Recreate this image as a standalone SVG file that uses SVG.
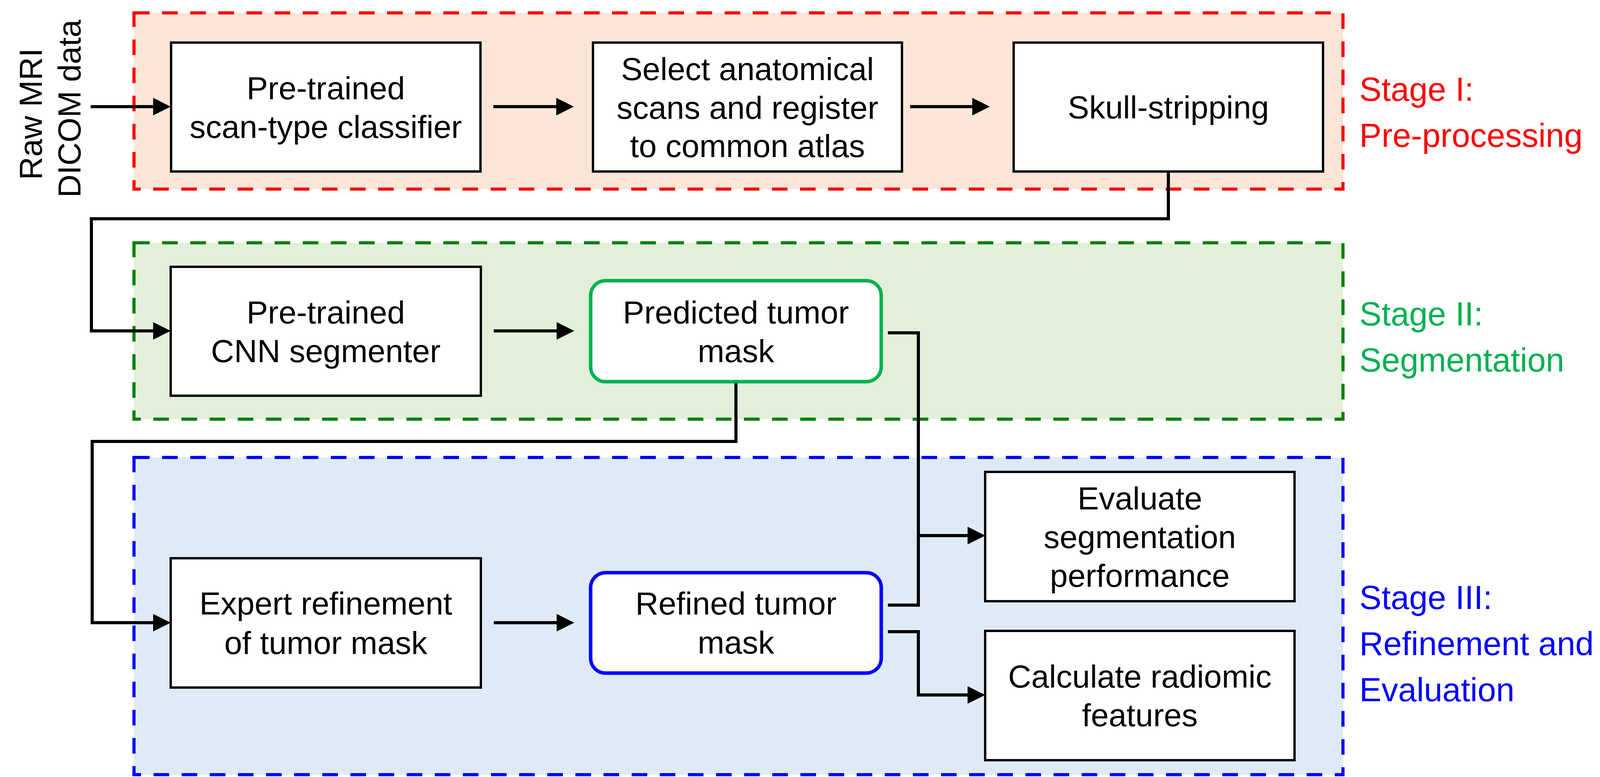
<svg xmlns="http://www.w3.org/2000/svg" width="4402" height="1989" viewBox="0 0 4402 1989">
<style>
  text { font-family: "Liberation Sans", Arial, Helvetica, sans-serif; }
  .lbl { font-size: 82px; fill: #000; text-anchor: middle; }
  .stage { font-size: 85px; }
  .box { fill: #FFFFFF; stroke: #000; stroke-width: 6; }
  .rbox { fill: #FFFFFF; stroke-width: 9; }
  .conn { fill: none; stroke: #000; stroke-width: 8; stroke-linejoin: miter; }
  .arr { marker-end: url(#ah); }
  .zone { stroke-width: 8; stroke-dasharray: 40 32; }
</style>
<defs>
  <marker id="ah" markerUnits="userSpaceOnUse" viewBox="0 0 45 45" markerWidth="45" markerHeight="45" refX="37" refY="22.5" orient="auto">
    <path d="M0,0 L45,22.5 L0,45 z" fill="#000"/>
  </marker>
</defs>
<rect width="4402" height="1989" fill="#FFFFFF"/>

<!-- stage zones -->
<g id="stage1">
  <rect class="zone" x="343" y="33" width="3095" height="451" fill="#FBE5D6" stroke="#FF0000"/>
  <text class="stage" x="3480" y="258" fill="#FF0000">Stage I:</text>
  <text class="stage" x="3480" y="376" fill="#FF0000">Pre-processing</text>
</g>
<g id="stage2">
  <rect class="zone" x="343" y="621.5" width="3095" height="451.5" fill="#E2F0D9" stroke="#008000"/>
  <text class="stage" x="3480" y="833" fill="#00B050">Stage II:</text>
  <text class="stage" x="3480" y="951" fill="#00B050">Segmentation</text>
</g>
<g id="stage3">
  <rect class="zone" x="343" y="1171" width="3095" height="812" fill="#DEEBF7" stroke="#0000FF"/>
  <text class="stage" x="3480" y="1559" fill="#0000FF">Stage III:</text>
  <text class="stage" x="3480" y="1677" fill="#0000FF">Refinement and</text>
  <text class="stage" x="3480" y="1795" fill="#0000FF">Evaluation</text>
</g>

<!-- input label -->
<g id="input">
  <text class="lbl" transform="translate(107,292) rotate(-90)">Raw MRI</text>
  <text class="lbl" transform="translate(206,278) rotate(-90)">DICOM data</text>
</g>

<!-- connectors -->
<g id="connectors">
  <path class="conn arr" d="M232,273 H429"/>
  <path class="conn arr" d="M1263,273 H1461"/>
  <path class="conn arr" d="M2330,273 H2526"/>
  <path class="conn arr" d="M2991,438 V560 H234 V847 H429"/>
  <path class="conn arr" d="M1264,847 H1462"/>
  <path class="conn arr" d="M1884,977 V1130 H236 V1594 H429"/>
  <path class="conn arr" d="M1264,1594 H1462"/>
  <path class="conn arr" d="M2273,852 H2351 V1371 H2514"/>
  <path class="conn arr" d="M2273,1549 H2351 V1371 H2514"/>
  <path class="conn arr" d="M2273,1617 H2351 V1779 H2514"/>
</g>

<!-- nodes -->
<g id="classifier">
  <rect class="box" x="438" y="109" width="792" height="330"/>
  <text class="lbl" x="834" y="254">Pre-trained</text>
  <text class="lbl" x="834" y="353">scan-type classifier</text>
</g>
<g id="register">
  <rect class="box" x="1518" y="109" width="791" height="330"/>
  <text class="lbl" x="1913.5" y="205">Select anatomical</text>
  <text class="lbl" x="1913.5" y="304">scans and register</text>
  <text class="lbl" x="1913.5" y="402">to common atlas</text>
</g>
<g id="skull">
  <rect class="box" x="2595" y="109" width="792" height="330"/>
  <text class="lbl" x="2991" y="303">Skull-stripping</text>
</g>
<g id="segmenter">
  <rect class="box" x="437" y="683" width="794" height="330"/>
  <text class="lbl" x="834" y="828">Pre-trained</text>
  <text class="lbl" x="834" y="927">CNN segmenter</text>
</g>
<g id="predicted">
  <rect class="rbox" x="1512" y="718.5" width="744" height="258.5" rx="38" ry="38" stroke="#00B050"/>
  <text class="lbl" x="1884" y="828">Predicted tumor</text>
  <text class="lbl" x="1884" y="927">mask</text>
</g>
<g id="expert">
  <rect class="box" x="437" y="1429" width="794" height="331"/>
  <text class="lbl" x="834" y="1573">Expert refinement</text>
  <text class="lbl" x="834" y="1674">of tumor mask</text>
</g>
<g id="refined">
  <rect class="rbox" x="1512" y="1466" width="744" height="257" rx="38" ry="38" stroke="#0000FF"/>
  <text class="lbl" x="1884" y="1573">Refined tumor</text>
  <text class="lbl" x="1884" y="1673">mask</text>
</g>
<g id="evaluate">
  <rect class="box" x="2522" y="1208" width="792" height="331"/>
  <text class="lbl" x="2918" y="1304">Evaluate</text>
  <text class="lbl" x="2918" y="1403">segmentation</text>
  <text class="lbl" x="2918" y="1502">performance</text>
</g>
<g id="radiomic">
  <rect class="box" x="2522" y="1615" width="792" height="331"/>
  <text class="lbl" x="2918" y="1760">Calculate radiomic</text>
  <text class="lbl" x="2918" y="1859">features</text>
</g>
</svg>
